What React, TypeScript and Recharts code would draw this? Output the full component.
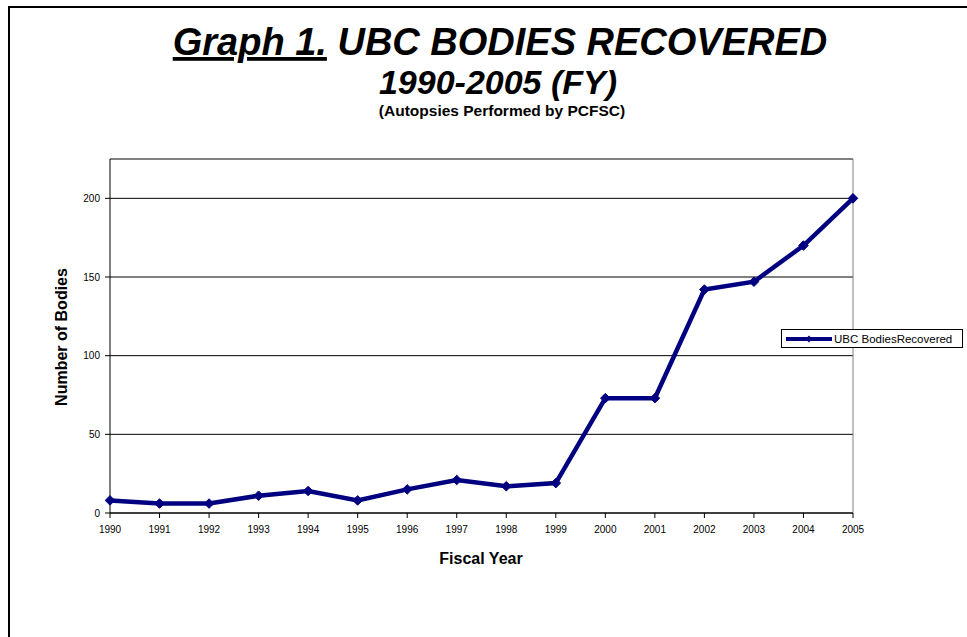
import React from "react";
import { LineChart, Line, XAxis, YAxis, CartesianGrid, ReferenceLine, Legend } from "recharts";

const years = [1990, 1991, 1992, 1993, 1994, 1995, 1996, 1997, 1998, 1999, 2000, 2001, 2002, 2003, 2004, 2005];
const bodies = [8, 6, 6, 11, 14, 8, 15, 21, 17, 19, 73, 73, 142, 147, 170, 200];
const yTicks = [0, 50, 100, 150, 200];
const seriesName = "UBC BodiesRecovered";

const data = years.map((y, i) => ({ year: y, value: bodies[i] }));

const FONT = "'Liberation Sans', Arial, sans-serif";
const NAVY = "#000080";

const Diamond = (props: any) => {
  const { cx, cy, index } = props;
  if (cx == null || cy == null) return <g key={`d-${index}`} />;
  const s = 4.8;
  return (
    <path
      key={`d-${index}`}
      d={`M${cx},${cy - s}L${cx + s},${cy}L${cx},${cy + s}L${cx - s},${cy}Z`}
      fill={NAVY}
      stroke={NAVY}
      strokeWidth={1}
    />
  );
};

const renderLegend = () => (
  <svg width={183} height={20} style={{ display: "block" }}>
    <rect x={0.5} y={0.5} width={181} height={18} fill="#fff" stroke="#000" strokeWidth={1} />
    <line x1={5} y1={10} x2={51} y2={10} stroke={NAVY} strokeWidth={4} />
    <path d="M28,6.5L31.5,10L28,13.5L24.5,10Z" fill={NAVY} />
    <text x={53} y={14} fontFamily={FONT} fontSize={11.5} fill="#000">{seriesName}</text>
  </svg>
);

export default function App() {
  return (
    <div style={{ position: "absolute", left: 0, top: 0, width: 967, height: 637, background: "#fff", overflow: "hidden" }}>
      <div style={{ position: "absolute", left: 8, top: 6, width: 1000, height: 700, borderTop: "2px solid #000", borderLeft: "2px solid #000" }} />
      <div style={{ position: "absolute", left: 0, top: 0 }}>
        <LineChart width={967} height={637} data={data} margin={{ top: 159, right: 114, bottom: 94, left: 50 }}>
          <CartesianGrid horizontal={true} vertical={false} stroke="#000" strokeWidth={1} />
          <ReferenceLine y={225} stroke="#808080" strokeWidth={1} ifOverflow="extendDomain" />
          <ReferenceLine x={2005} stroke="#808080" strokeWidth={1} />
          <XAxis
            dataKey="year"
            type="number"
            domain={[1990, 2005]}
            ticks={years}
            interval={0}
            height={30}
            axisLine={{ stroke: "#000" }}
            tickLine={{ stroke: "#000" }}
            tickSize={5}
            tick={{ fontFamily: FONT, fontSize: 10, fill: "#000", dy: 6 }}
          />
          <YAxis
            type="number"
            domain={[0, 225]}
            ticks={yTicks}
            width={60}
            axisLine={{ stroke: "#000" }}
            tickLine={{ stroke: "#000" }}
            tickSize={5}
            tick={{ fontFamily: FONT, fontSize: 10, fill: "#000", dx: -3 }}
          />
          <Legend
            layout="vertical"
            align="center"
            verticalAlign="middle"
            content={renderLegend}
            wrapperStyle={{ position: "absolute", left: 781, top: 329, width: 183, height: 20 }}
          />
          <Line
            type="linear"
            dataKey="value"
            name={seriesName}
            stroke={NAVY}
            strokeWidth={4.5}
            dot={Diamond}
            activeDot={false}
            isAnimationActive={false}
          />
        </LineChart>
      </div>
      <svg width={967} height={637} style={{ position: "absolute", left: 0, top: 0, pointerEvents: "none" }}>
        <text x={500} y={55} textAnchor="middle" fontFamily={FONT} fontSize={38} fontWeight="bold" fontStyle="italic" fill="#000">
          <tspan textDecoration="underline">Graph 1.</tspan>
          <tspan> UBC BODIES RECOVERED</tspan>
        </text>
        <text x={498} y={94} textAnchor="middle" fontFamily={FONT} fontSize={34} fontWeight="bold" fontStyle="italic" fill="#000">
          1990-2005 (FY)
        </text>
        <text x={502} y={116} textAnchor="middle" fontFamily={FONT} fontSize={15.5} fontWeight="bold" fill="#000">
          (Autopsies Performed by PCFSC)
        </text>
        <text x={481} y={564} textAnchor="middle" fontFamily={FONT} fontSize={16} fontWeight="bold" fill="#000">
          Fiscal Year
        </text>
        <text x={0} y={0} transform="translate(67,337) rotate(-90)" textAnchor="middle" fontFamily={FONT} fontSize={16} fontWeight="bold" fill="#000">
          Number of Bodies
        </text>
      </svg>
    </div>
  );
}
